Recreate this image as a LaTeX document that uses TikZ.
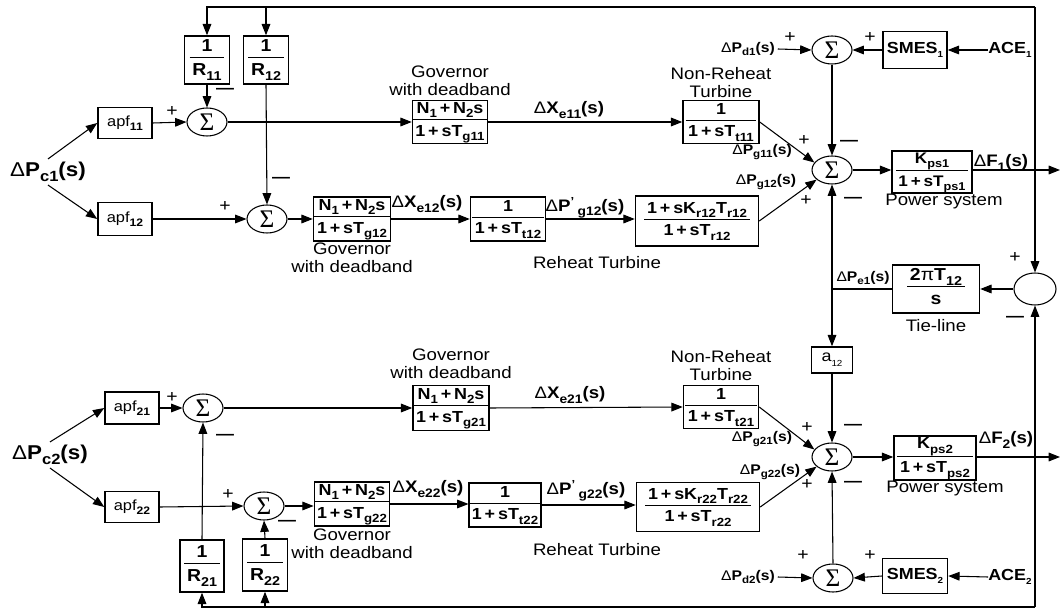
\documentclass[tikz,border=0pt]{standalone}
\usepackage{fontspec}
\setmainfont{Liberation Sans}[FakeStretch=1.12]
\newfontfamily\sigfont{Liberation Serif}
\usepackage{graphicx}
\usetikzlibrary{shapes.geometric,arrows.meta,calc}
\newcommand\sbs[1]{\raisebox{-0.28em}{\scalebox{0.74}{#1}}}
\newcommand\tsb[1]{\raisebox{-0.3em}{\scalebox{0.55}{#1}}}
\newcommand\pls{\hspace{0.18em}+\hspace{0.18em}}
\newcommand\fr[2]{{\setlength\arrayrulewidth{0.9pt}\renewcommand\arraystretch{1.0}\begin{tabular}{@{\hspace{2pt}}c@{\hspace{2pt}}}#1\\\hline\rule{0pt}{1.0em}#2\end{tabular}}}
\newcommand\D{{\mdseries Δ}}
\begin{document}
\begin{tikzpicture}[x=0.75pt,y=-0.75pt,
  bx/.style 2 args={draw,line width=1.1pt,inner sep=0pt,minimum width=#1*0.75pt,minimum height=#2*0.75pt,font=\fontsize{12pt}{13.5pt}\selectfont\bfseries},
  sm/.style={draw,ellipse,line width=0.8pt,inner sep=0pt,minimum width=30pt,minimum height=21pt,font=\sigfont\fontsize{19pt}{19pt}\selectfont},
  lbl/.style={align=center,font=\fontsize{12.5pt}{13.5pt}\selectfont,inner sep=0pt},
  sig/.style={font=\fontsize{12.5pt}{14pt}\selectfont\bfseries,inner sep=0pt},
  ssig/.style={font=\fontsize{10.5pt}{12pt}\selectfont\bfseries,inner sep=2pt},
  bsig/.style={font=\fontsize{15pt}{17pt}\selectfont\bfseries,inner sep=2pt},
  pl/.style={font=\fontsize{13pt}{13pt}\selectfont,inner sep=0pt},
  mi/.style={font=\fontsize{12pt}{12pt}\selectfont\bfseries,inner sep=0pt},
  ln/.style={line width=0.8pt},
  arr/.style={ln,-{Triangle[length=8.5pt,width=6.5pt]}},
  darr/.style={ln,{Triangle[length=8.5pt,width=6.5pt]}-{Triangle[length=8.5pt,width=6.5pt]}},
  apfs/.style={font=\fontsize{11pt}{12pt}\selectfont},
  rfs/.style={font=\fontsize{13pt}{14pt}\selectfont\bfseries}
]
\path[use as bounding box,fill=white] (0,0) rectangle (1060,609);

% ---------- Area 1 ----------
\node[bx={45}{48},rfs] (R11) at (207,60) {\fr{1}{R\sbs{11}}};
\node[bx={45}{48},rfs] (R12) at (266,60) {\fr{1}{R\sbs{12}}};
\node[sm] (S11) at (207,122) {Σ};
\node[bx={54}{31},apfs] (apf11) at (125,123) {apf\sbs{\bfseries 11}};
\node[bx={54}{33},apfs] (apf12) at (125,219) {apf\sbs{\bfseries 12}};
\node[sm] (S12) at (267,219) {Σ};
\node[bx={75}{43}] (G11) at (450,122) {\fr{N\sbs{1}\pls N\sbs{2}s}{1\pls sT\sbs{g11}}};
\node[bx={76}{43}] (NR11) at (721,122) {\fr{1}{1\pls sT\sbs{t11}}};
\node[bx={77}{44}] (G12) at (352,219) {\fr{N\sbs{1}\pls N\sbs{2}s}{1\pls sT\sbs{g12}}};
\node[bx={75}{44}] (T12) at (508,219) {\fr{1}{1\pls sT\sbs{t12}}};
\node[bx={123}{50}] (RH12) at (697,221) {\fr{1\pls sK\sbs{r12}T\sbs{r12}}{1\pls sT\sbs{r12}}};
\node[sm] (SA1) at (832,170) {Σ};
\node[sm] (SD1) at (832,50) {Σ};
\node[bx={64}{37}] (SMES1) at (915,50) {SMES\tsb{1}};
\node[bx={80}{38},font=\fontsize{11.5pt}{13pt}\selectfont\bfseries] (K1) at (932,172) {\fr{K\sbs{ps1}}{1\pls sT\sbs{ps1}}};
\node[bx={87}{48},rfs] (Tie) at (936,289) {\fr{2{\mdseries π}T\sbs{12}}{s}};
\node[draw,ellipse,ln,inner sep=0pt,minimum width=31.5pt,minimum height=24pt] (C) at (1035,289) {};
\node[bx={41}{26},font=\fontsize{12pt}{12pt}\selectfont] (a12) at (832,360) {a\tsb{12}};

% ---------- Area 2 ----------
\node[sm] (SA2) at (832,457) {Σ};
\node[bx={82}{44}] (K2) at (935,458) {\fr{K\sbs{ps2}}{1\pls sT\sbs{ps2}}};
\node[sm] (SD2) at (833,578) {Σ};
\node[bx={65}{35}] (SMES2) at (915,576) {SMES\tsb{2}};
\node[bx={54}{32},apfs] (apf21) at (132,408) {apf\sbs{\bfseries 21}};
\node[sm] (S21) at (203,408) {Σ};
\node[bx={76}{45}] (G21) at (451,408) {\fr{N\sbs{1}\pls N\sbs{2}s}{1\pls sT\sbs{g21}}};
\node[bx={75}{43}] (NR21) at (721,407) {\fr{1}{1\pls sT\sbs{t21}}};
\node[bx={54}{31},apfs] (apf22) at (132,507) {apf\sbs{\bfseries 22}};
\node[sm] (S22) at (264,506) {Σ};
\node[bx={75}{44}] (G22) at (352,504) {\fr{N\sbs{1}\pls N\sbs{2}s}{1\pls sT\sbs{g22}}};
\node[bx={67}{44}] (T22) at (505,505) {\fr{1}{1\pls sT\sbs{t22}}};
\node[bx={123}{49}] (RH22) at (698,507) {\fr{1\pls sK\sbs{r22}T\sbs{r22}}{1\pls sT\sbs{r22}}};
\node[bx={44}{52},rfs] (R21) at (202,566) {\fr{1}{R\sbs{21}}};
\node[bx={45}{52},rfs] (R22) at (265,565) {\fr{1}{R\sbs{22}}};

% ---------- signal labels ----------
\node[bsig] (Pc1) at (48,172) {\D P\sbs{c1}(s)};
\node[bsig] (Pc2) at (50,455) {\D P\sbs{c2}(s)};
\node[sig] (Xe11) at (569,110) {\D X\sbs{e11}(s)};
\node[sig] (Xe12) at (427,204) {\D X\sbs{e12}(s)};
\node[sig] (Xe21) at (570,395) {\D X\sbs{e21}(s)};
\node[sig] (Xe22) at (428,489) {\D X\sbs{e22}(s)};
\node[sig] (Pp12) at (585,208) {\D P\textsuperscript{'}\,\sbs{g12}(s)};
\node[sig] (Pp22) at (586,491) {\D P\textsuperscript{'}\,\sbs{g22}(s)};
\node[ssig] (Pg11) at (762,152) {\D P\sbs{g11}(s)};
\node[ssig] (Pg12) at (766,182) {\D P\sbs{g12}(s)};
\node[ssig] (Pg21) at (762,439) {\D P\sbs{g21}(s)};
\node[ssig] (Pg22) at (770,472) {\D P\sbs{g22}(s)};
\node[ssig] (Pe1) at (863,278) {\D P\sbs{e1}(s)};
\node[sig] (F1) at (1001,163) {\D F\sbs{1}(s)};
\node[sig] (F2) at (1006,440) {\D F\sbs{2}(s)};
\node[ssig] (Pd1) at (748,49) {\D P\sbs{d1}(s)};
\node[ssig] (Pd2) at (748,577) {\D P\sbs{d2}(s)};
\node[sig,anchor=west,font=\fontsize{12pt}{13pt}\selectfont\bfseries] (ACE1) at (988,50) {ACE\tsb{1}};
\node[sig,anchor=west,font=\fontsize{12pt}{13pt}\selectfont\bfseries] (ACE2) at (988,577) {ACE\tsb{2}};

% ---------- text labels ----------
\node[lbl] (lG11) at (450,81) {Governor\\with deadband};
\node[lbl] (lG12) at (352,258) {Governor\\with deadband};
\node[lbl] (lG21) at (451,364) {Governor\\with deadband};
\node[lbl] (lG22) at (352,544) {Governor\\with deadband};
\node[lbl] (lNR11) at (721,83) {Non-Reheat\\Turbine};
\node[lbl] (lNR21) at (721,366) {Non-Reheat\\Turbine};
\node[lbl] (lRH12) at (597,263) {Reheat Turbine};
\node[lbl] (lRH22) at (597,550) {Reheat Turbine};
\node[lbl] (lK1) at (944,201) {Power system};
\node[lbl] (lK2) at (945,488) {Power system};
\node[lbl] (lTie) at (936,326) {Tie-line};

% ---------- signs ----------
\foreach \p/\q [count=\i] in {172/112,225/207,790/38,870/38,804/141,806/201,1015/258,172/397,228/494,807/427,807/484,803/555,870/555}
  \node[pl] (plus\i) at (\p,\q) {+};
\foreach \p/\q [count=\i] in {225/91,281/180,849/143,853/200,1015/319,225/437,287/523,853/427,853/484}
  \node[mi] (minus\i) at (\p,\q) {—};

% ---------- feedback loops ----------
\coordinate (tr) at (1035,7);
\coordinate (br) at (1035,607);
\draw[arr] (tr) -- (C.north);
\draw[arr] (tr) -| (R11.north);
\draw[arr] (R12.north |- tr) -- (R12.north);
\draw[arr] (br) -- (C.south);
\draw[arr] (br) -| (R21.south);
\draw[arr] (R22.south |- br) -- (R22.south);

% ---------- area 1 connectors ----------
\draw[arr] (Pc1.north) -- (apf11.west);
\draw[arr] (Pc1.south) -- (apf12.west);
\draw[arr] (R11.south) -- (S11.north);
\draw[arr] (R12.south) -- (S12.north);
\draw[arr] (apf11.east) -- (S11.west);
\draw[arr] (S11.east) -- (G11.west);
\draw[arr] (G11.east) -- (NR11.west);
\draw[arr] (NR11.east) -- (SA1.157);
\draw[arr] (apf12.east) -- (S12.west);
\draw[arr] (S12.east) -- (G12.west);
\draw[arr] (G12.east) -- (T12.west);
\draw[arr] (T12.east) -- (T12.east -| RH12.west);
\draw[arr] (RH12.east) -- (SA1.212);
\draw[arr] (Pd1.east) -- (SD1.west);
\draw[arr] (SMES1.west) -- (SD1.east);
\draw[arr] (ACE1.west) -- (SMES1.east);
\draw[arr] (SD1.south) -- (SA1.north);
\draw[arr] (SA1.east) -- (SA1.east -| K1.west);
\coordinate (F1end) at (1060,170);
\draw[arr] (SA1.east -| K1.east) -- (F1end);
\draw[darr] (SA1.south) -- (a12.north);
\draw[ln] (Tie.west) -- (Tie.west -| SA1.south);
\draw[arr] (C.west) -- (Tie.east);

% ---------- area 2 connectors ----------
\draw[arr] (Pc2.north) -- (apf21.west);
\draw[arr] (Pc2.south) -- (apf22.west);
\draw[arr] (R21.north) -- (S21.south);
\draw[arr] (R22.north) -- (S22.south);
\draw[arr] (apf21.east) -- (S21.west);
\draw[arr] (S21.east) -- (G21.west);
\draw[arr] (G21.east) -- (NR21.west);
\draw[arr] (NR21.east) -- (SA2.157);
\draw[arr] (apf22.east) -- (S22.west);
\draw[arr] (S22.east) -- (S22.east -| G22.west);
\draw[arr] (G22.east) -- (G22.east -| T22.west);
\draw[arr] (T22.east) -- (T22.east -| RH22.west);
\draw[arr] (RH22.east) -- (SA2.212);
\draw[arr] (a12.south) -- (SA2.north);
\draw[arr] (SD2.north) -- (SA2.south);
\draw[arr] (Pd2.east) -- (SD2.west);
\draw[arr] (SMES2.west) -- (SD2.east);
\draw[arr] (ACE2.west) -- (SMES2.east);
\draw[arr] (SA2.east) -- (SA2.east -| K2.west);
\coordinate (F2end) at (1060,457);
\draw[arr] (SA2.east -| K2.east) -- (F2end);
\end{tikzpicture}
\end{document}
